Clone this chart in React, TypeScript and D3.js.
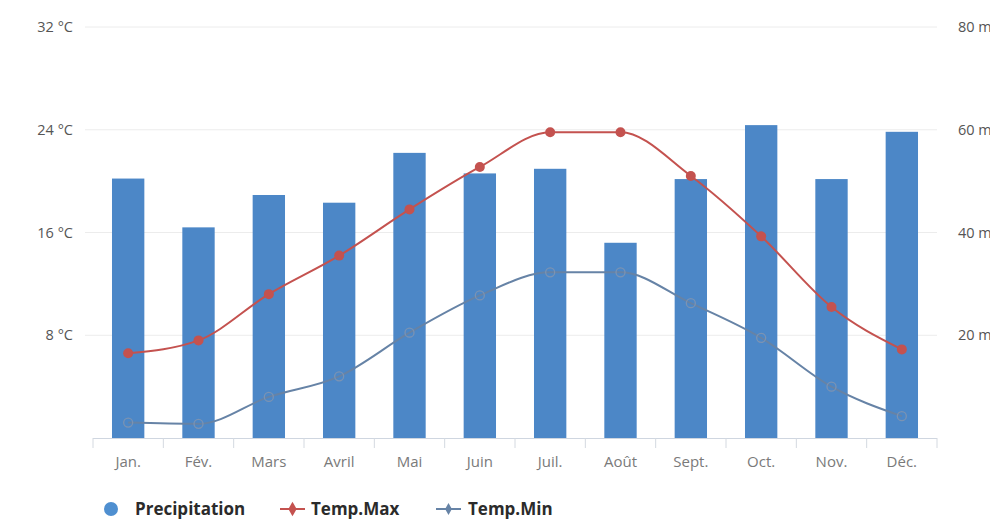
import React from "react";
import * as d3 from "d3";

// Monthly climate normals
const months = ["Jan.", "Fév.", "Mars", "Avril", "Mai", "Juin", "Juil.", "Août", "Sept.", "Oct.", "Nov.", "Déc."];
const precipitation = [50.5, 41, 47.3, 45.8, 55.5, 51.5, 52.4, 38, 50.4, 60.9, 50.4, 59.6];
const tempMax = [6.6, 7.6, 11.2, 14.2, 17.8, 21.1, 23.8, 23.8, 20.4, 15.7, 10.2, 6.9];
const tempMin = [1.2, 1.1, 3.2, 4.8, 8.2, 11.1, 12.9, 12.9, 10.5, 7.8, 4.0, 1.7];
const tempTicks = [8, 16, 24, 32];
const rainTicks = [20, 40, 60, 80];

const W = 990;
const H = 519;
const left = 93;
const right = 937;
const top = 27;
const bottom = 438;

const BAR = "#4c87c7";
const RED = "#c4524f";
const BLUE_LINE = "#6683a6";
const FONT = "'Open Sans', 'DejaVu Sans', sans-serif";

export default function App() {
  const x = d3.scaleBand<string>().domain(months).range([left, right]).paddingInner(0).paddingOuter(0);
  const yT = d3.scaleLinear().domain([0, 32]).range([bottom, top]);
  const yP = d3.scaleLinear().domain([0, 80]).range([bottom, top]);
  const bw = x.bandwidth() * 0.46;
  const cx = (m: string) => (x(m) as number) + x.bandwidth() / 2;

  const line = d3
    .line<number>()
    .x((_, i) => cx(months[i]))
    .y((d) => yT(d))
    .curve(d3.curveMonotoneX);

  const boundaries = d3.range(months.length + 1).map((i) => left + i * x.bandwidth());

  return (
    <svg
      width={W}
      height={H}
      style={{ position: "absolute", left: 0, top: 0, background: "#fff", fontFamily: FONT }}
    >
      {/* grid lines */}
      {tempTicks.map((t) => (
        <line key={t} x1={left - 8} x2={right} y1={yT(t)} y2={yT(t)} stroke="#ececec" strokeWidth={1} />
      ))}

      {/* left axis labels */}
      {tempTicks.map((t) => (
        <text key={t} x={73} y={yT(t) + 5} textAnchor="end" fontSize={14.5} fill="#555">
          {`${t} °C`}
        </text>
      ))}

      {/* right axis labels */}
      {rainTicks.map((t) => (
        <text key={t} x={958} y={yP(t) + 5} textAnchor="start" fontSize={14.5} fill="#555">
          {`${t} mm`}
        </text>
      ))}

      {/* precipitation bars */}
      {precipitation.map((v, i) => (
        <rect
          key={months[i]}
          x={cx(months[i]) - bw / 2}
          y={yP(v)}
          width={bw}
          height={bottom - yP(v)}
          fill={BAR}
        />
      ))}

      {/* x axis */}
      <line x1={left} x2={right} y1={bottom + 0.5} y2={bottom + 0.5} stroke="#cfd6e0" />
      {boundaries.map((b, i) => (
        <line key={i} x1={b} x2={b} y1={bottom} y2={bottom + 10} stroke="#d4d9e0" />
      ))}
      {months.map((m) => (
        <text key={m} x={cx(m)} y={467} textAnchor="middle" fontSize={15} fill="#7a7a7a">
          {m}
        </text>
      ))}

      {/* temperature lines */}
      <path d={line(tempMin) || ""} fill="none" stroke={BLUE_LINE} strokeWidth={2} />
      {tempMin.map((v, i) => (
        <circle key={i} cx={cx(months[i])} cy={yT(v)} r={4.5} fill="none" stroke="#7b93b3" strokeWidth={1.3} />
      ))}
      <path d={line(tempMax) || ""} fill="none" stroke={RED} strokeWidth={2} />
      {tempMax.map((v, i) => (
        <circle key={i} cx={cx(months[i])} cy={yT(v)} r={5} fill={RED} />
      ))}

      {/* legend */}
      <g fontSize={17} fontWeight="bold" fill="#2b2b2b">
        <circle cx={111} cy={509} r={7} fill="#4f8fd0" />
        <text x={135} y={515}>Precipitation</text>
        <line x1={280} x2={305} y1={509} y2={509} stroke={RED} strokeWidth={2} />
        <path d={d3.symbol().type(d3.symbolDiamond).size(60)() || ""} transform="translate(292.5,509)" fill={RED} />
        <text x={311} y={515}>Temp.Max</text>
        <line x1={436} x2={461} y1={509} y2={509} stroke={BLUE_LINE} strokeWidth={2} />
        <path d={d3.symbol().type(d3.symbolDiamond).size(40)() || ""} transform="translate(448.5,509)" fill={BLUE_LINE} />
        <text x={468} y={515}>Temp.Min</text>
      </g>
    </svg>
  );
}
